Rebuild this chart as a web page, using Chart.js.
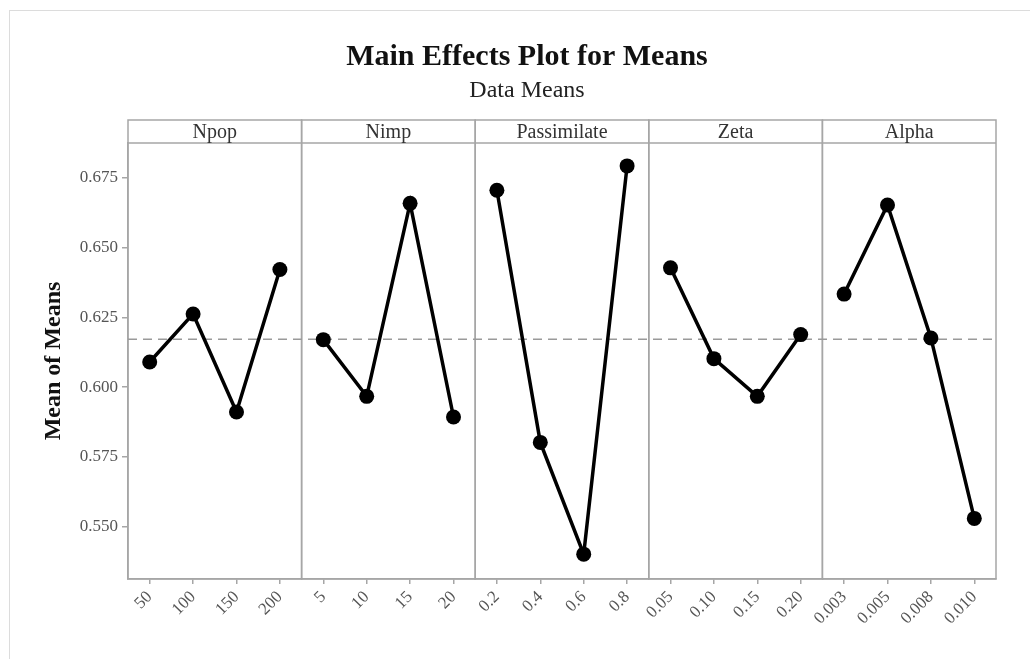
<!DOCTYPE html>
<html>
<head>
<meta charset="utf-8">
<title>Main Effects Plot for Means</title>
<script src="https://cdn.jsdelivr.net/npm/chart.js@4.4.1/dist/chart.umd.min.js"></script>
<style>
  html, body { margin: 0; padding: 0; background: #fff; }
  #wrap { position: relative; width: 1030px; height: 659px; overflow: hidden; }
  #frame { position: absolute; left: 9px; top: 10px; width: 1100px; height: 700px;
           border-left: 1px solid #dcdcdc; border-top: 1px solid #dcdcdc; pointer-events: none; }
  canvas { position: absolute; left: 0; top: 0; }
</style>
</head>
<body>
<div id="wrap">
  <canvas id="myChart" width="1030" height="659"></canvas>
  <div id="frame"></div>
</div>
<script>
// factor names (panel headers)
const factorNames = ["Npop", "Nimp", "Passimilate", "Zeta", "Alpha"];

// levels of each factor (x tick labels)
const npopLevels = ["50", "100", "150", "200"];
const nimpLevels = ["5", "10", "15", "20"];
const passimilateLevels = ["0.2", "0.4", "0.6", "0.8"];
const zetaLevels = ["0.05", "0.10", "0.15", "0.20"];
const alphaLevels = ["0.003", "0.005", "0.008", "0.010"];

// mean of means at each level
const npopMeans = [0.6090, 0.6262, 0.5911, 0.6421];
const nimpMeans = [0.6170, 0.5967, 0.6658, 0.5893];
const passimilateMeans = [0.6705, 0.5802, 0.5402, 0.6792];
const zetaMeans = [0.6427, 0.6102, 0.5967, 0.6188];
const alphaMeans = [0.6333, 0.6652, 0.6176, 0.5530];

// y axis
const yMin = 0.5313;
const yMax = 0.6874;
const yStep = 0.025;

const serif = "'Liberation Serif', 'Times New Roman', serif";
const lineGray = "#a6a6a6";
const tickGray = "#555555";

const allLevels = [npopLevels, nimpLevels, passimilateLevels, zetaLevels, alphaLevels];
const allMeans = [npopMeans, nimpMeans, passimilateMeans, zetaMeans, alphaMeans];

// grand mean = dashed reference line
const grandMean = npopMeans.reduce((a, b) => a + b, 0) / npopMeans.length;

// one x axis per panel, stacked side by side at the bottom
const scales = {};
allLevels.forEach(function(levels, i) {
    scales["x" + i] = {
        type: "category",
        position: "bottom",
        stack: "panels",
        stackWeight: 1,
        labels: levels,
        offset: true,
        grid: { display: true, drawOnChartArea: false, drawTicks: true, tickLength: 5, color: lineGray, lineWidth: 1.5, offset: false },
        border: { display: true, color: lineGray, width: 1.5 },
        ticks: { minRotation: 45, maxRotation: 45, autoSkip: false, padding: 3, color: tickGray, font: { family: serif, size: 17 } },
        afterFit: function(scale) { scale.height = 80; }
    };
});

scales.y = {
    type: "linear",
    position: "left",
    min: yMin,
    max: yMax,
    ticks: {
        stepSize: yStep,
        includeBounds: false,
        padding: 4,
        color: tickGray,
        font: { family: serif, size: 17 },
        callback: function(v) { return v.toFixed(3); }
    },
    grid: { drawOnChartArea: false, drawTicks: true, tickLength: 6, color: lineGray, lineWidth: 1.5 },
    border: { display: true, color: lineGray, width: 1.5 },
    title: {
        display: true,
        text: "Mean of Means",
        color: "#111",
        font: { family: serif, size: 24, weight: "bold" },
        padding: { top: -19, bottom: 0 }
    },
    afterFit: function(scale) { scale.width = 70; }
};

// panel frames, strip headers and the dashed grand mean line
const panelPlugin = {
    id: "panels",
    beforeDatasetsDraw(chart) {
        const ctx = chart.ctx;
        const area = chart.chartArea;
        const stripTop = area.top - 23;
        ctx.save();
        ctx.strokeStyle = lineGray;
        ctx.lineWidth = 1.5;
        factorNames.forEach(function(name, i) {
            const s = chart.scales["x" + i];
            ctx.strokeRect(s.left, stripTop, s.right - s.left, area.bottom - stripTop);
            ctx.beginPath();
            ctx.moveTo(s.left, area.top);
            ctx.lineTo(s.right, area.top);
            ctx.stroke();
            ctx.fillStyle = "#333";
            ctx.font = "20px " + serif;
            ctx.textAlign = "center";
            ctx.textBaseline = "middle";
            ctx.fillText(name, (s.left + s.right) / 2, (stripTop + area.top) / 2 + 1);
        });

        const yPix = chart.scales.y.getPixelForValue(grandMean);
        ctx.strokeStyle = "#9a9a9a";
        ctx.lineWidth = 1.5;
        ctx.setLineDash([9, 6]);
        ctx.beginPath();
        ctx.moveTo(area.left, yPix);
        ctx.lineTo(area.right, yPix);
        ctx.stroke();
        ctx.restore();
    }
};

const ctx = document.getElementById("myChart").getContext("2d");
const myChart = new Chart(ctx, {
    type: "line",
    data: {
        datasets: allMeans.map(function(means, i) {
            return {
                label: factorNames[i],
                data: means,
                xAxisID: "x" + i,
                yAxisID: "y",
                borderColor: "#000",
                backgroundColor: "#000",
                borderWidth: 3.5,
                pointRadius: 7.5,
                pointBorderWidth: 0,
                pointBackgroundColor: "#000",
                tension: 0,
                clip: false
            };
        })
    },
    options: {
        responsive: false,
        animation: false,
        devicePixelRatio: 1,
        layout: { padding: { left: 58, right: 34, top: 0, bottom: 0 } },
        scales: scales,
        plugins: {
            legend: { display: false },
            tooltip: { enabled: false },
            title: {
                display: true,
                text: "Main Effects Plot for Means",
                color: "#111",
                font: { family: serif, size: 30, weight: "bold" },
                padding: { top: 39.5, bottom: 0 }
            },
            subtitle: {
                display: true,
                text: "Data Means",
                color: "#222",
                font: { family: serif, size: 24, weight: "normal" },
                padding: { top: 1, bottom: 37.7 }
            }
        }
    },
    plugins: [panelPlugin]
});
</script>
</body>
</html>
